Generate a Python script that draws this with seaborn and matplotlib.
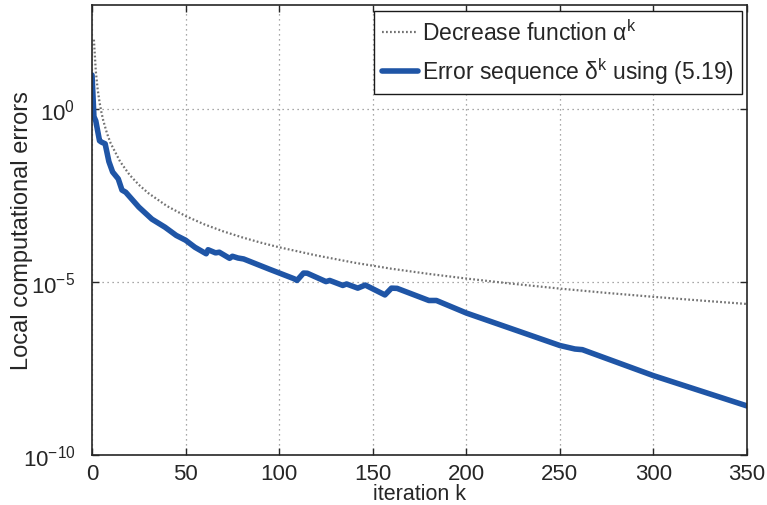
import numpy as np
import matplotlib
matplotlib.use("Agg")
import matplotlib.pyplot as plt
import matplotlib.ticker as mticker
import seaborn as sns

# Decrease function alpha^k
alpha_k = [1, 2, 3, 4, 5, 6, 8, 10, 15, 20, 25, 30, 40, 50, 60, 70, 80, 90, 100,
           120, 140, 160, 180, 200, 225, 250, 275, 300, 325, 350]
alpha_val = [1e2, 12.5, 3.7, 1.56, 0.8, 0.46, 0.195, 0.1, 0.03, 0.0125, 0.0064,
             0.0037, 0.00156, 8e-4, 4.6e-4, 2.9e-4, 1.95e-4, 1.37e-4, 1e-4,
             5.8e-5, 3.6e-5, 2.4e-5, 1.7e-5, 1.25e-5, 8.8e-6, 6.4e-6, 4.8e-6,
             3.7e-6, 2.9e-6, 2.3e-6]

# Error sequence delta^k
delta_k = [0, 1, 2, 4, 5, 7, 9, 11, 14, 16, 18, 25, 32, 39, 45, 50, 55, 61, 62,
           66, 68, 73.5, 75, 78, 81, 95, 108, 109.5, 113, 115, 125, 127, 134, 136,
           142, 146, 156.5, 160, 163, 180, 184, 200, 250, 258, 262, 300, 350]
delta_val = [9.5, 0.6, 0.45, 0.12, 0.11, 0.098, 0.03, 0.015, 0.0095, 0.0045,
             0.0039, 0.00145, 6.5e-4, 3.8e-4, 2.2e-4, 1.6e-4, 1.0e-4, 6.5e-5,
             8.5e-5, 6.9e-5, 7.2e-5, 4.8e-5, 5.5e-5, 4.9e-5, 4.6e-5, 2.3e-5,
             1.23e-5, 1.1e-5, 1.8e-5, 1.78e-5, 1.02e-5, 1.1e-5, 7.9e-6, 8.7e-6,
             6.6e-6, 8.1e-6, 4.2e-6, 6.6e-6, 6.5e-6, 2.9e-6, 2.9e-6, 1.26e-6,
             1.45e-7, 1.15e-7, 1.1e-7, 1.95e-8, 2.6e-9]

x_ticks = [0, 50, 100, 150, 200, 250, 300, 350]
y_ticks = [1e-10, 1e-5, 1e0]

sns.set_style("ticks")
plt.rcParams['font.family'] = ['Liberation Sans', 'DejaVu Sans']
plt.rcParams['mathtext.fontset'] = 'custom'
plt.rcParams['mathtext.rm'] = 'Liberation Sans'
plt.rcParams['mathtext.it'] = 'Liberation Sans:italic'
plt.rcParams['mathtext.bf'] = 'Liberation Sans:bold'

fig = plt.figure(figsize=(7.67, 5.06), dpi=100)
ax = fig.add_axes([0.12, 0.099, 0.854, 0.889])

sns.lineplot(x=alpha_k, y=alpha_val, ax=ax, color='0.45', lw=1.6,
             linestyle=(0, (0.8, 1.0)), estimator=None,
             label='Decrease function α$^{\\mathrm{k}}$')
sns.lineplot(x=delta_k, y=delta_val, ax=ax, color='#1f55a6', lw=4,
             estimator=None,
             label='Error sequence δ$^{\\mathrm{k}}$ using (5.19)')

ax.set_yscale('log')
ax.set_xlim(0, 350)
ax.set_ylim(1e-10, 1e3)
ax.set_xticks(x_ticks)
ax.set_yticks(y_ticks)
ax.yaxis.set_minor_locator(mticker.NullLocator())
ax.grid(True, which='major', linestyle=(0, (1, 3)), color='0.55', lw=0.9)

ax.tick_params(direction='in', top=True, right=True, length=5, width=1,
               labelsize=16, pad=6)
ax.tick_params(axis='y', pad=12)

for s in ax.spines.values():
    s.set_linewidth(1.2)
    s.set_color('0.15')

ax.set_xlabel('iteration k', fontsize=15.5, labelpad=-1)
ax.set_ylabel('Local computational errors', fontsize=17)
ax.yaxis.set_label_coords(-0.09, 0.5)

leg = ax.legend(loc='upper right', bbox_to_anchor=(0.992, 0.987),
                borderaxespad=0, fontsize=16.5, fancybox=False, framealpha=1,
                edgecolor='0.1', handlelength=1.6, handletextpad=0.15,
                borderpad=0.35, labelspacing=0.45)
leg.get_frame().set_linewidth(1.0)

fig.savefig('out.png', dpi=100)
